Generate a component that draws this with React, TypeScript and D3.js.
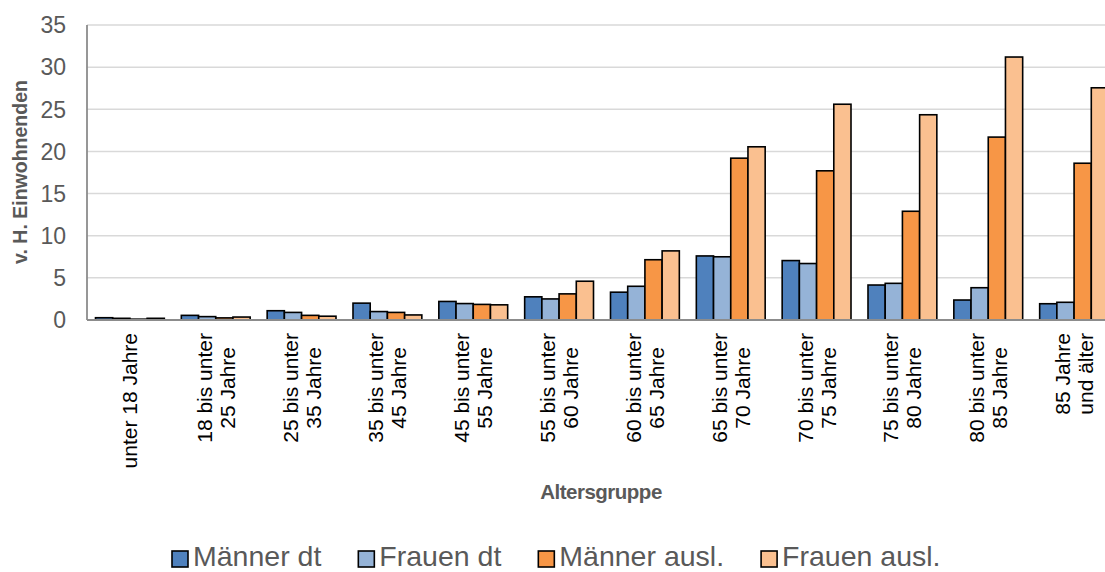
import React, { useEffect, useRef } from "react";
import * as d3 from "d3";

const categories: string[][] = [
  ["unter 18 Jahre"],
  ["18 bis unter", "25 Jahre"],
  ["25 bis unter", "35 Jahre"],
  ["35 bis unter", "45 Jahre"],
  ["45 bis unter", "55 Jahre"],
  ["55 bis unter", "60 Jahre"],
  ["60 bis unter", "65 Jahre"],
  ["65 bis unter", "70 Jahre"],
  ["70 bis unter", "75 Jahre"],
  ["75 bis unter", "80 Jahre"],
  ["80 bis unter", "85 Jahre"],
  ["85 Jahre", "und älter"],
];

const seriesNames = ["Männer dt", "Frauen dt", "Männer ausl.", "Frauen ausl."];
const seriesColors = ["#4f81bd", "#95b3d7", "#f79646", "#fac090"];

const maennerDt = [0.27, 0.55, 1.1, 2.0, 2.2, 2.75, 3.3, 7.6, 7.05, 4.15, 2.37, 1.93];
const frauenDt = [0.2, 0.4, 0.9, 1.0, 1.95, 2.5, 4.0, 7.5, 6.7, 4.35, 3.83, 2.1];
const maennerAusl = [0.1, 0.25, 0.55, 0.9, 1.85, 3.1, 7.15, 19.2, 17.7, 12.9, 21.7, 18.6];
const frauenAusl = [0.2, 0.35, 0.45, 0.6, 1.8, 4.6, 8.2, 20.55, 25.6, 24.35, 31.2, 27.55];

const yTicks = [0, 5, 10, 15, 20, 25, 30, 35];

const FONT = "'Liberation Sans', Arial, Helvetica, sans-serif";

export default function App() {
  const ref = useRef<SVGSVGElement | null>(null);

  useEffect(() => {
    const svg = d3.select(ref.current);
    svg.selectAll("*").remove();

    const left = 87;
    const right = 1117;
    const top = 25;
    const bottom = 320;

    const catKeys = categories.map((c) => c.join(" "));
    const values = [maennerDt, frauenDt, maennerAusl, frauenAusl];

    const x0 = d3
      .scaleBand<string>()
      .domain(catKeys)
      .range([left, right])
      .paddingInner(0.198)
      .paddingOuter(0.099);
    const x1 = d3
      .scaleBand<string>()
      .domain(seriesNames)
      .range([0, x0.bandwidth()]);
    const y = d3.scaleLinear().domain([0, 35]).range([bottom, top]);

    // gridlines
    svg
      .append("g")
      .selectAll("line")
      .data(yTicks.filter((t) => t > 0))
      .join("line")
      .attr("x1", left)
      .attr("x2", 1105)
      .attr("y1", (d) => y(d))
      .attr("y2", (d) => y(d))
      .attr("stroke", "#d9d9d9")
      .attr("stroke-width", 1.5);

    // y tick labels
    svg
      .append("g")
      .selectAll("text")
      .data(yTicks)
      .join("text")
      .attr("x", 66)
      .attr("y", (d) => y(d))
      .attr("dy", "0.36em")
      .attr("text-anchor", "end")
      .attr("font-family", FONT)
      .attr("font-size", 23)
      .attr("fill", "#595959")
      .text((d) => String(d));

    // bars
    const groups = svg
      .append("g")
      .selectAll("g")
      .data(catKeys)
      .join("g")
      .attr("transform", (d) => `translate(${x0(d)},0)`);

    groups
      .selectAll("rect")
      .data((_, i) => seriesNames.map((s, j) => ({ s, j, v: values[j][i] })))
      .join("rect")
      .attr("x", (d) => x1(d.s) as number)
      .attr("width", x1.bandwidth())
      .attr("y", (d) => y(d.v))
      .attr("height", (d) => y(0) - y(d.v))
      .attr("fill", (d) => seriesColors[d.j])
      .attr("stroke", "#000")
      .attr("stroke-width", 1.6);

    // axes lines
    svg
      .append("line")
      .attr("x1", left)
      .attr("x2", 1105)
      .attr("y1", bottom)
      .attr("y2", bottom)
      .attr("stroke", "#8c8c8c")
      .attr("stroke-width", 1.8);
    svg
      .append("line")
      .attr("x1", left)
      .attr("x2", left)
      .attr("y1", top)
      .attr("y2", bottom)
      .attr("stroke", "#8c8c8c")
      .attr("stroke-width", 1.8);

    // x tick labels (rotated, centered block, top anchored)
    const labelTop = 333;
    const lineGap = 23;
    categories.forEach((lines, i) => {
      const cx = (x0(catKeys[i]) as number) + x0.bandwidth() / 2;
      const g = svg.append("g");
      const texts = lines.map((ln) =>
        g
          .append("text")
          .attr("font-family", FONT)
          .attr("font-size", 21)
          .attr("fill", "#000")
          .attr("text-anchor", "middle")
          .text(ln)
      );
      const maxLen = Math.max(
        ...texts.map((t) => (t.node() as SVGTextElement).getComputedTextLength())
      );
      const cy = labelTop + maxLen / 2;
      texts.forEach((t, k) => {
        const off = (k - (lines.length - 1) / 2) * lineGap + 7.5;
        t.attr("transform", `translate(${cx + off},${cy}) rotate(-90)`);
      });
    });

    // axis titles
    svg
      .append("text")
      .attr("transform", `translate(27,172) rotate(-90)`)
      .attr("text-anchor", "middle")
      .attr("font-family", FONT)
      .attr("font-size", 19.5)
      .attr("font-weight", "bold")
      .attr("fill", "#595959")
      .text("v. H. Einwohnenden");

    svg
      .append("text")
      .attr("x", 601)
      .attr("y", 499)
      .attr("text-anchor", "middle")
      .attr("font-family", FONT)
      .attr("font-size", 20.5)
      .attr("font-weight", "bold")
      .attr("letter-spacing", -0.5)
      .attr("fill", "#595959")
      .text("Altersgruppe");

    // legend
    const lg = svg.append("g");
    let lx = 172;
    const sq = 16;
    seriesNames.forEach((name, i) => {
      lg.append("rect")
        .attr("x", lx)
        .attr("y", 551)
        .attr("width", sq)
        .attr("height", sq)
        .attr("fill", seriesColors[i])
        .attr("stroke", "#000")
        .attr("stroke-width", 1.6);
      const t = lg
        .append("text")
        .attr("x", lx + sq + 5)
        .attr("y", 566)
        .attr("font-family", FONT)
        .attr("font-size", 28.5)
        .attr("fill", "#595959")
        .text(name);
      const w = (t.node() as SVGTextElement).getComputedTextLength();
      lx = lx + sq + 5 + w + 37;
    });
  }, []);

  return (
    <svg
      ref={ref}
      width={1105}
      height={572}
      style={{ position: "absolute", left: 0, top: 0, background: "#fff" }}
    />
  );
}
